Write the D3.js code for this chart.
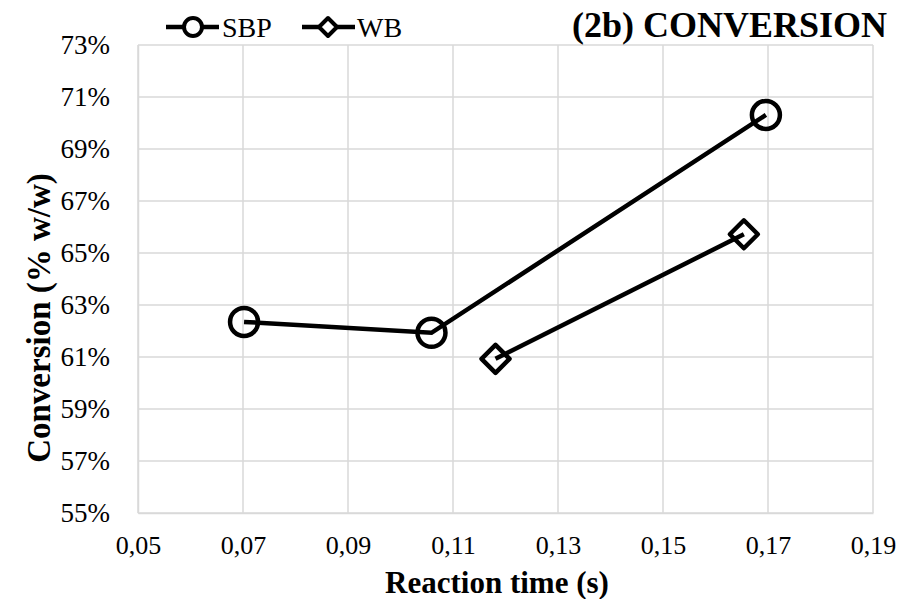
<!DOCTYPE html>
<html><head><meta charset="utf-8">
<script src="https://cdn.jsdelivr.net/npm/d3@7"></script>
<style>body{margin:0;background:#fff}svg{display:block}svg text{fill:#000}</style>
</head><body><svg id="c" width="923" height="599"></svg>
<script>
const sbpX = [0.0702, 0.1059, 0.1696];
const sbpY = [62.35, 61.93, 70.31];
const wbX = [0.1181, 0.1654];
const wbY = [60.93, 65.72];
const xTicks = [0.05, 0.07, 0.09, 0.11, 0.13, 0.15, 0.17, 0.19];
const yTicks = [55, 57, 59, 61, 63, 65, 67, 69, 71, 73];
const seriesNames = ["SBP", "WB"];
const title = "(2b) CONVERSION";
const xTitle = "Reaction time (s)";
const yTitle = "Conversion (% w/w)";

const svg = d3.select("#c");
const L = 138, R = 873, T = 45, B = 513;
const x = d3.scaleLinear().domain([0.05, 0.19]).range([L, R]);
const y = d3.scaleLinear().domain([55, 73]).range([B, T]);
const grid = "#d9d9d9";
const serif = "'Liberation Serif','Times New Roman',Tinos,'DejaVu Serif',serif";

svg.append("g").selectAll("line").data(xTicks).join("line")
  .attr("x1", d => x(d)).attr("x2", d => x(d)).attr("y1", T).attr("y2", B)
  .attr("stroke", grid).attr("stroke-width", 1.5);
svg.append("g").selectAll("line").data(yTicks).join("line")
  .attr("x1", L).attr("x2", R).attr("y1", d => y(d)).attr("y2", d => y(d))
  .attr("stroke", grid).attr("stroke-width", 1.5);

const fmtX = d => d3.format(".2f")(d).replace(".", ",");
const xa = svg.append("g").attr("transform", `translate(0,${B})`)
  .call(d3.axisBottom(x).tickValues(xTicks).tickFormat(fmtX).tickSize(0).tickPadding(23));
xa.attr("font-family", serif).attr("font-size", 26);
xa.select(".domain").attr("stroke", grid).attr("stroke-width", 1.5);
const ya = svg.append("g").attr("transform", `translate(${L},0)`)
  .call(d3.axisLeft(y).tickValues(yTicks).tickFormat(d => d + "%").tickSize(0).tickPadding(28));
ya.attr("font-family", serif).attr("font-size", 27);
ya.select(".domain").attr("stroke", grid).attr("stroke-width", 1.5);

const line = d3.line().x(d => x(d[0])).y(d => y(d[1]));
const sbp = sbpX.map((v, i) => [v, sbpY[i]]);
const wb = wbX.map((v, i) => [v, wbY[i]]);
svg.append("path").datum(sbp).attr("d", line).attr("fill", "none").attr("stroke", "#000").attr("stroke-width", 4.5);
svg.append("path").datum(wb).attr("d", line).attr("fill", "none").attr("stroke", "#000").attr("stroke-width", 4.5);
svg.append("g").selectAll("circle").data(sbp).join("circle")
  .attr("cx", d => x(d[0])).attr("cy", d => y(d[1])).attr("r", 14)
  .attr("fill", "none").attr("stroke", "#000").attr("stroke-width", 4.5);
const diamond = (cx, cy, s) => `M${cx},${cy - s}L${cx + s},${cy}L${cx},${cy + s}L${cx - s},${cy}Z`;
svg.append("g").selectAll("path").data(wb).join("path")
  .attr("d", d => diamond(x(d[0]), y(d[1]), 14))
  .attr("fill", "none").attr("stroke", "#000").attr("stroke-width", 4.5).attr("stroke-linejoin", "round");

const lg = svg.append("g").attr("font-family", serif);
lg.append("line").attr("x1", 166).attr("x2", 219).attr("y1", 27).attr("y2", 27).attr("stroke", "#000").attr("stroke-width", 4.5);
lg.append("circle").attr("cx", 193).attr("cy", 27).attr("r", 9).attr("fill", "#fff").attr("stroke", "#000").attr("stroke-width", 4);
lg.append("text").attr("x", 222).attr("y", 37).attr("font-size", 28).text(seriesNames[0]);
lg.append("line").attr("x1", 302).attr("x2", 355).attr("y1", 27).attr("y2", 27).attr("stroke", "#000").attr("stroke-width", 4.5);
lg.append("path").attr("d", diamond(328, 27, 9)).attr("fill", "#fff").attr("stroke", "#000").attr("stroke-width", 4).attr("stroke-linejoin", "round");
lg.append("text").attr("x", 357).attr("y", 37).attr("font-size", 28).text(seriesNames[1]);

svg.append("text").attr("x", 887).attr("y", 37).attr("text-anchor", "end").attr("font-family", serif)
  .attr("font-size", 36).attr("font-weight", "bold").text(title);
svg.append("text").attr("x", 497).attr("y", 593).attr("text-anchor", "middle").attr("font-family", serif)
  .attr("font-size", 31).attr("font-weight", "bold").text(xTitle);
svg.append("text").attr("transform", "translate(50,318) rotate(-90)").attr("text-anchor", "middle").attr("font-family", serif)
  .attr("font-size", 33).attr("font-weight", "bold").text(yTitle);
</script></body></html>
